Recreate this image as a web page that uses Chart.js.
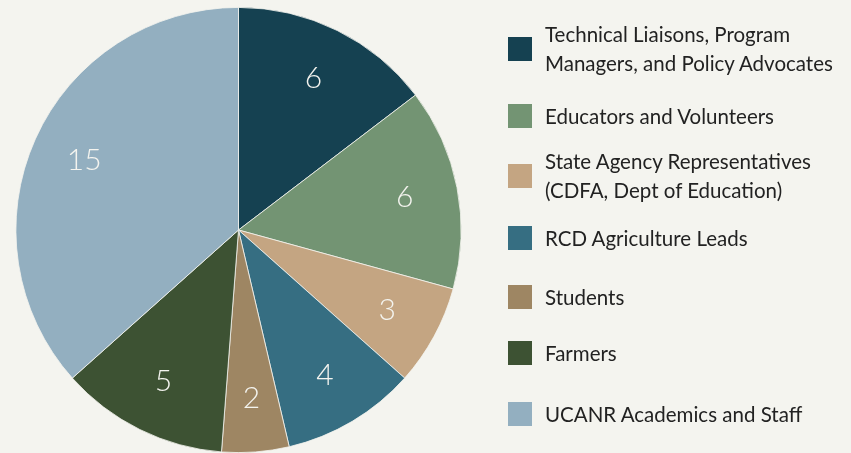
<!DOCTYPE html>
<html>
<head>
<meta charset="utf-8">
<script src="https://cdn.jsdelivr.net/npm/chart.js@4"></script>
<style>
  html, body { margin: 0; padding: 0; background: #f4f4ef; }
  #wrap { position: relative; width: 851px; height: 453px; overflow: hidden; }
  #pieChart { position: absolute; left: 0; top: 0; }
  #legend { position: absolute; left: 508px; top: 0; font-family: Lato, "Open Sans", sans-serif; font-size: 20.5px; color: #222; }
  .item { position: absolute; left: 0; display: flex; align-items: center; white-space: nowrap; }
  .box { width: 24px; height: 24px; flex: none; margin-right: 13px; }
  .txt { line-height: 29px; }
</style>
</head>
<body>
<div id="wrap">
  <canvas id="pieChart" width="851" height="453"></canvas>
  <div id="legend"></div>
</div>
<script>
const labels = [
    ['Technical Liaisons, Program', 'Managers, and Policy Advocates'],
    ['Educators and Volunteers'],
    ['State Agency Representatives', '(CDFA, Dept of Education)'],
    ['RCD Agriculture Leads'],
    ['Students'],
    ['Farmers'],
    ['UCANR Academics and Staff']
];
const counts = [6, 6, 3, 4, 2, 5, 15];
const colors = ['#154151', '#739473', '#c4a582', '#366e82', '#9e8663', '#3d5233', '#93afc0'];
const legendCenters = [49, 116, 176, 238, 297, 353, 414];

// value labels inside the slices
const sliceLabels = {
    id: 'sliceLabels',
    afterDatasetsDraw(chart) {
        const ctx = chart.ctx;
        const meta = chart.getDatasetMeta(0);
        ctx.save();
        ctx.fillStyle = '#f4f4ef';
        ctx.font = '300 30px Lato, sans-serif';
        ctx.textAlign = 'center';
        ctx.textBaseline = 'middle';
        meta.data.forEach((arc, i) => {
            const mid = (arc.startAngle + arc.endAngle) / 2;
            const r = arc.outerRadius * 0.76;
            ctx.fillText(String(counts[i]), arc.x + Math.cos(mid) * r, arc.y + Math.sin(mid) * r);
        });
        ctx.restore();
    }
};

new Chart(document.getElementById('pieChart').getContext('2d'), {
    type: 'pie',
    data: {
        labels: labels.map(l => l.join(' ')),
        datasets: [{
            data: counts,
            backgroundColor: colors,
            borderColor: '#f4f4ef',
            borderWidth: 0.8
        }]
    },
    options: {
        responsive: false,
        animation: false,
        layout: { padding: { left: 14, top: 7, right: 388, bottom: 0 } },
        plugins: {
            legend: { display: false },
            tooltip: { enabled: false }
        }
    },
    plugins: [sliceLabels]
});

// html legend
const legend = document.getElementById('legend');
labels.forEach((lines, i) => {
    const item = document.createElement('div');
    item.className = 'item';
    const h = lines.length * 29;
    item.style.top = (legendCenters[i] - h / 2) + 'px';
    const box = document.createElement('div');
    box.className = 'box';
    box.style.background = colors[i];
    const txt = document.createElement('div');
    txt.className = 'txt';
    txt.innerHTML = lines.join('<br>');
    item.appendChild(box);
    item.appendChild(txt);
    legend.appendChild(item);
});
</script>
</body>
</html>
